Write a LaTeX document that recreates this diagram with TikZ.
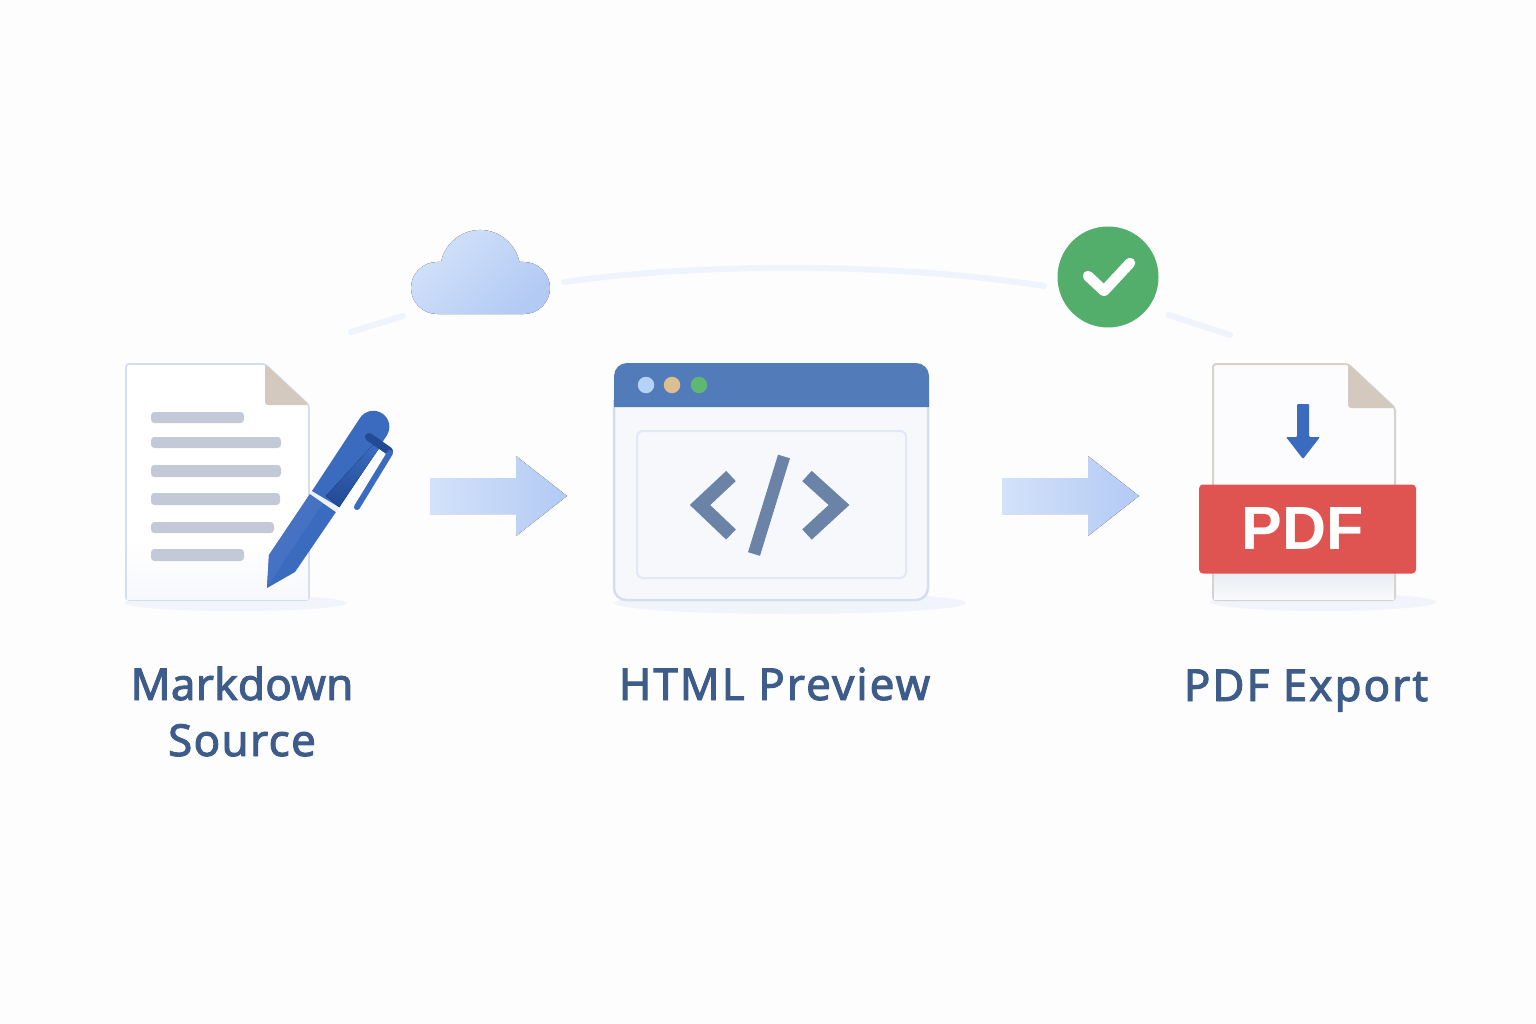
\documentclass[tikz,border=0pt]{standalone}
\usepackage{fontspec}
\setmainfont{Noto Sans}
\newfontfamily\labfont[FakeBold=2.2]{Noto Sans}
\newfontfamily\badgefont{Liberation Sans}
\usetikzlibrary{arrows.meta}
\definecolor{bgc}{HTML}{FDFDFE}
\definecolor{labelc}{HTML}{3E5C89}
\definecolor{arcc}{HTML}{EEF3FC}
\definecolor{lnc}{HTML}{C3C9D6}
\definecolor{foldc}{HTML}{D3C9BE}
\definecolor{docedge}{HTML}{D5DDEC}
\definecolor{pdfedge}{HTML}{D6D2CC}
\definecolor{penb}{HTML}{3A6BBF}
\definecolor{penl}{HTML}{4572C2}
\definecolor{pend}{HTML}{234A94}
\definecolor{barc}{HTML}{527BB9}
\definecolor{codec}{HTML}{6C83A8}
\definecolor{winc}{HTML}{F7F8FC}
\definecolor{winedge}{HTML}{D5DEEC}
\definecolor{innerc}{HTML}{E1E9F5}
\definecolor{shc}{HTML}{F1F4FA}
\definecolor{redc}{HTML}{DF5450}
\definecolor{greenc}{HTML}{53AE6C}
\definecolor{arrowa}{HTML}{D2E2FA}
\definecolor{arrowb}{HTML}{B3CAF4}
\definecolor{dota}{HTML}{B5D2F8}
\definecolor{dotb}{HTML}{DCBE90}
\definecolor{dotc}{HTML}{5FB772}
\definecolor{mdfade}{HTML}{F7F8FC}
\definecolor{pdffadea}{HTML}{E9EDF4}
\definecolor{pdffadeb}{HTML}{F8F9FB}
\tikzset{
  lab/.style={text=labelc,align=center,inner sep=0pt},
  labtext/.style={font=\labfont\fontsize{44}{56}\selectfont\addfontfeature{LetterSpace=#1}},
  arcseg/.style={draw=arcc,line width=6pt,line cap=round},
  txtline/.style={fill=lnc,rounded corners=3.5pt},
  shadow/.style={fill=shc},
  flow/.style={left color=arrowa,right color=arrowb},
  codemark/.style={draw=codec,line width=14pt},
  dot/.style={circle,inner sep=0pt,minimum size=16.5pt},
}
\begin{document}
\begin{tikzpicture}[x=1pt,y=-1pt]
\useasboundingbox (0,0) rectangle (1536,1024);
\fill[bgc] (0,0) rectangle (1536,1024);
% arc
\draw[arcseg] (351,332) -- (403,316);
\draw[arcseg] (564,282) .. controls (700,263) and (890,262) .. (1044,286);
\draw[arcseg] (1169,315) -- (1230,335);
% cloud
\fill[left color=arrowa,right color=arrowb,shading angle=45]
  (437,314) arc[start angle=90,end angle=270,radius=26] -- (441,262)
  arc[start angle=191.5,end angle=348.5,radius=40] -- (524,262)
  arc[start angle=270,end angle=450,radius=26] -- cycle;
% check
\node[circle,fill=greenc,minimum size=101pt,inner sep=0pt] (ok) at (1108,277) {};
\draw[white,line width=10.5pt,line cap=round,line join=round] (1088,276) -- (1104,291) -- (1130,263);
% shadows
\fill[shadow] (236,603) ellipse (111 and 8);
\fill[shadow] (790,603) ellipse (176 and 11);
\fill[shadow] (1323,602) ellipse (113 and 9);
% markdown doc
\draw[draw=docedge,fill=white,line width=1.8pt,rounded corners=3pt] (126,364) -- (265,364) -- (309,405) -- (309,600) -- (126,600) -- cycle;
\fill[top color=white,bottom color=mdfade] (127,540) rectangle (308,599);
\fill[foldc,rounded corners=3pt] (265,364) -- (265,405) -- (309,405) -- cycle;
\fill[txtline] (151,412) rectangle (244,423);
\fill[txtline] (151,437) rectangle (281,448);
\fill[txtline] (151,465) rectangle (281,477);
\fill[txtline] (151,493) rectangle (280,505);
\fill[txtline] (151,522) rectangle (274,533);
\fill[txtline] (151,549) rectangle (244,561);
% pen
\fill[penb] (267,588) -- (269,555) -- (310,494) -- (336,512) -- (295,572) -- cycle;
\fill[penl] (267,588) -- (269,555) -- (310,494) -- (323,503) -- (282,564) -- cycle;
\fill[white!90!penb] (310,494) -- (313,490) -- (339,508) -- (336,512) -- cycle;
\fill[penb] (312,491) -- (360,418) arc[start angle=213.3,end angle=393.3,radius=16] -- (339.5,507.4) -- cycle;
\fill[top color=penb,bottom color=pend,shading angle=-10] (326,496) -- (339,507) -- (382,444) -- (372,446) -- cycle;
\draw[pend,line width=8pt,line join=round,line cap=round] (369,437) -- (389,451);
\draw[penb,line width=6pt,line join=round,line cap=round] (390,453) -- (357,507);
% window
\draw[draw=winedge,fill=winc,line width=2.5pt,rounded corners=12pt] (614,400) -- (614,600) -- (928,600) -- (928,400);
\fill[barc] (614,407) -- (614,376) arc[start angle=180,end angle=270,radius=13] -- (916,363) arc[start angle=270,end angle=360,radius=13] -- (929,407) -- cycle;
\node[dot,fill=dota] (d1) at (646,385) {};
\node[dot,fill=dotb] (d2) at (672,385) {};
\node[dot,fill=dotc] (d3) at (699,385) {};
\draw[innerc,line width=2pt,rounded corners=6pt] (637,431) rectangle (906,578);
\draw[codemark,miter limit=10] (731,476) -- (700,505) -- (731,534.5);
\draw[codemark,miter limit=10] (807,476) -- (839,505) -- (807,534.5);
\draw[codec,line width=12.5pt] (784,456.5) -- (754,554);
% flow arrows
\fill[flow] (430,478) -- (516,478) -- (516,456) -- (567,496) -- (516,536) -- (516,514) -- (430,514) -- cycle;
\fill[flow] (1002,478) -- (1088,478) -- (1088,456) -- (1139,496) -- (1088,536) -- (1088,514) -- (1002,514) -- cycle;
% pdf
\draw[draw=pdfedge,fill=white!60!winc,line width=2pt,rounded corners=3pt] (1213,364) -- (1348,364) -- (1395,408) -- (1395,600) -- (1213,600) -- cycle;
\fill[top color=pdffadea,bottom color=pdffadeb] (1214,573) rectangle (1394,599);
\fill[foldc,rounded corners=3pt] (1348,364) -- (1348,408) -- (1395,408) -- cycle;
\fill[penb,rounded corners=1pt] (1297,404) -- (1309,404) -- (1309,437) -- (1320,437) -- (1303,459) -- (1286,437) -- (1297,437) -- cycle;
\node[fill=redc,rounded corners=4pt,minimum width=217pt,minimum height=89pt,inner sep=0pt,text=white,font=\badgefont\fontsize{61}{61}\selectfont\bfseries] (pdf) at (1307.5,529) {\kern-10pt\raisebox{-1pt}{PDF}};
% labels
\node[lab,labtext=0.6,anchor=base] (l1) at (242,700) {Markdown};
\node[lab,labtext=3,anchor=base] (l1b) at (242,756) {Source};
\node[lab,labtext=4.5,anchor=base] (l2) at (774.5,700) {HTML Preview};
\node[lab,labtext=4.5,anchor=base] (l3) at (1306,701) {PDF Export};
\end{tikzpicture}
\end{document}
